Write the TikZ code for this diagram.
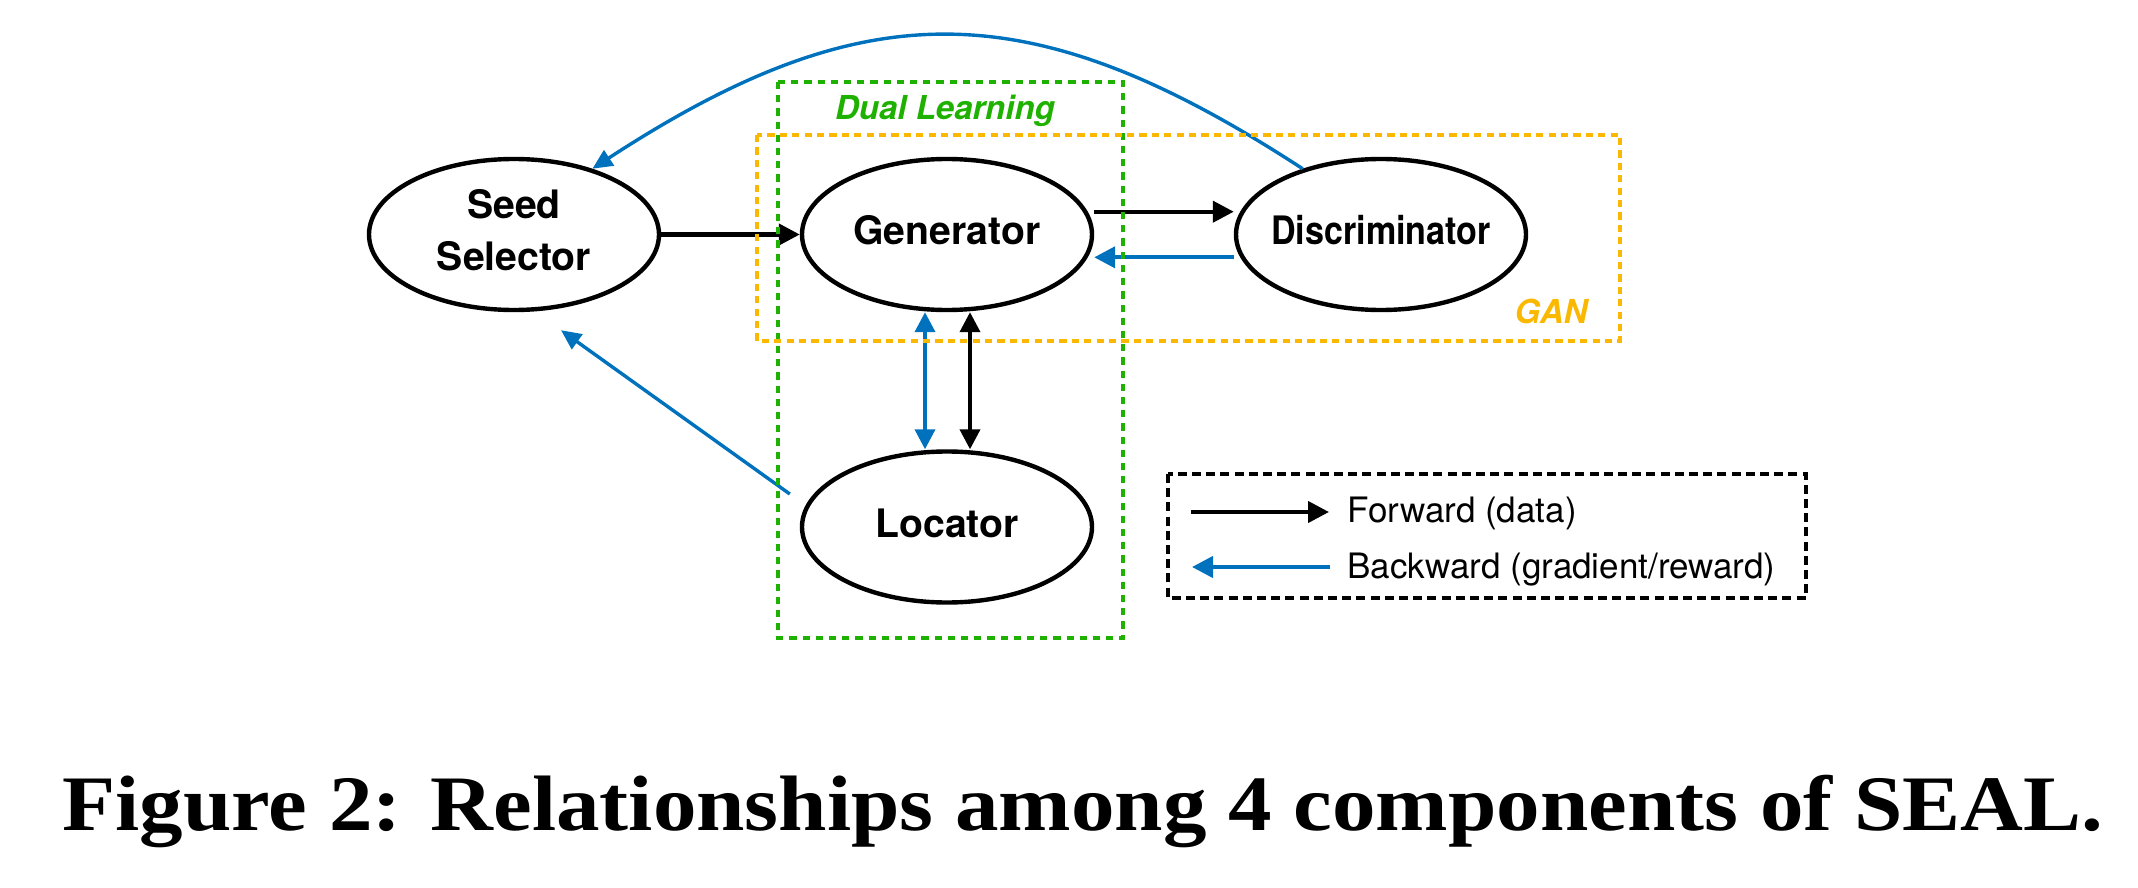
\documentclass[tikz,border=0pt]{standalone}
\usepackage{fontspec}
\setmainfont{Liberation Serif}
\setsansfont{TeX Gyre Heros}
\usetikzlibrary{shapes.geometric,arrows.meta}
\definecolor{cblue}{RGB}{0,114,189}
\definecolor{cgreen}{RGB}{30,177,0}
\definecolor{corange}{RGB}{250,185,0}
\newcommand\comptext[1]{\makebox[0pt]{\begin{tabular}{@{}c@{}}#1\end{tabular}}}
\begin{document}
\begin{tikzpicture}[x=0.5pt,y=-0.5pt,
  comp/.style={ellipse, draw, line width=2.2pt, minimum width=145pt, minimum height=75.5pt,
    inner sep=0pt, font=\fontsize{19.6pt}{26pt}\selectfont\sffamily\bfseries},
  bigtip/.style={-{Triangle[length=10.5pt,width=10.5pt]}},
  fwd/.style={black, line width=2.1pt, bigtip},
  bwd/.style={cblue, line width=2.1pt, bigtip},
  thinbwd/.style={cblue, line width=1.7pt, -{Triangle[length=10pt,width=9pt]}},
  dbl/.style={line width=1.9pt, {Triangle[length=10pt,width=10pt]}-{Triangle[length=10pt,width=10pt]}},
  greenbox/.style={draw=cgreen, line width=1.8pt, dash pattern=on 3.6pt off 3pt},
  orangebox/.style={draw=corange, line width=1.8pt, dash pattern=on 3.6pt off 2.6pt},
  legendbox/.style={draw=black, line width=1.8pt, dash pattern=on 4.5pt off 2.6pt},
  boxlabel/.style={font=\fontsize{16.5pt}{20pt}\selectfont\sffamily\bfseries\itshape, anchor=base},
  legtext/.style={font=\fontsize{17.5pt}{21pt}\selectfont\sffamily, anchor=base west, inner sep=0pt}
]
\useasboundingbox (0,0) rectangle (2138,888);

% components
\node[comp] (seed) at (514,234.5) {\comptext{Seed\\Selector}};
\node[comp] (gen)  at (947,234.5) {\comptext{Generator}};
\node[comp] (disc) at (1381,234.5) {\comptext{\scalebox{0.87}[1]{Discriminator}}};
\node[comp] (loc)  at (947,527) {\comptext{Locator}};

% connectors
\draw[fwd] (seed.east) -- (gen.west);
\draw[fwd] ([yshift=11.4pt]gen.east) -- ([yshift=11.4pt]disc.west);
\draw[bwd] ([yshift=-11.4pt]disc.west) -- ([yshift=-11.4pt]gen.east);
\draw[dbl, cblue] ([xshift=-11pt]gen.south) -- ([xshift=-11pt]loc.north);
\draw[dbl, black] ([xshift=11.5pt]gen.south) -- ([xshift=11.5pt]loc.north);
\draw[thinbwd] ([xshift=-5pt,yshift=16.5pt]loc.west) -- ([xshift=23.5pt,yshift=-9pt]seed.south);
\draw[thinbwd] (disc.140) .. controls (1030,-9) and (865,-9) .. (seed.40);

% group boxes
\draw[greenbox] (777.7,82) rectangle (1123,638);
\draw[orangebox] (757,135) rectangle (1620,341);
\node[boxlabel, text=cgreen] (dual) at (945,120) {Dual Learning};
\node[boxlabel, text=corange] (gan) at (1551,323) {GAN};

% legend
\draw[legendbox] (1168,474) rectangle (1806,598);
\coordinate (fa) at (1191,512);
\coordinate (fb) at (1329,512);
\coordinate (ba) at (1330,567);
\coordinate (bb) at (1192,567);
\draw[fwd] (fa) -- (fb);
\draw[bwd] (ba) -- (bb);
\node[legtext] (ftext) at (1347,522.6) {Forward (data)};
\node[legtext] (btext) at (1347,578.7) {Backward (gradient/reward)};

% caption
\node[font=\fontsize{39.3pt}{47pt}\selectfont\rmfamily\bfseries, anchor=base, inner sep=0pt] (cap) at (1083,830)
  {\scalebox{1.107}[1]{Figure 2: Relationships among 4 components of SEAL.}};
\end{tikzpicture}
\end{document}
